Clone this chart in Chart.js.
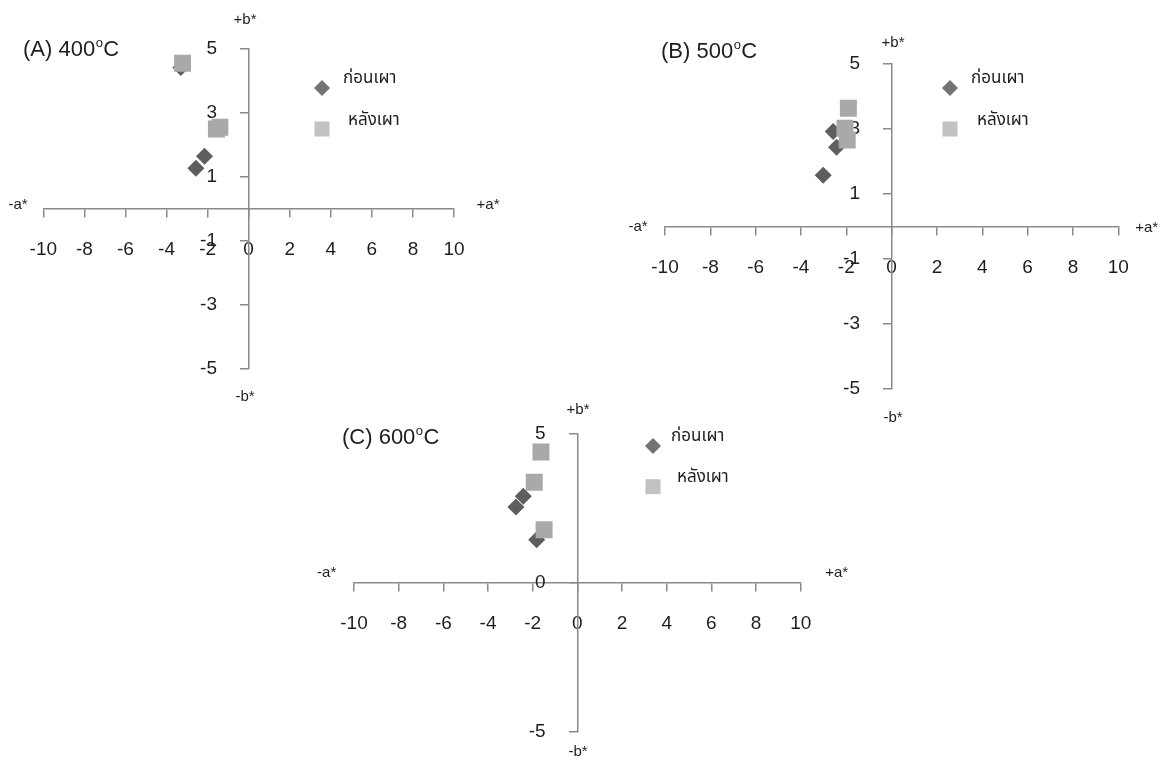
<!DOCTYPE html>
<html><head><meta charset="utf-8">
<script src="https://cdn.jsdelivr.net/npm/chart.js@4/dist/chart.umd.min.js"></script>
<style>
html,body{margin:0;padding:0;background:#fff;}
body{width:1169px;height:765px;position:relative;overflow:hidden;}
canvas{position:absolute;}
</style></head><body>
<canvas id="cA" width="520" height="410" style="left:0px;top:0px"></canvas>
<canvas id="cB" width="569" height="420" style="left:600px;top:20px"></canvas>
<canvas id="cC" width="580" height="370" style="left:290px;top:395px"></canvas>
<script>
// ---- data ----
const seriesNames = ['ก่อนเผา', 'หลังเผา'];
const panelTitles = ['(A) 400', '(B) 500', '(C) 600'];
const xTicks = [-10, -8, -6, -4, -2, 0, 2, 4, 6, 8, 10];
const yTicksAB = [-5, -3, -1, 1, 3, 5];
const yTicksC = [-5, 0, 5];

const aBeforeX = [-3.3, -2.15, -2.57];
const aBeforeY = [4.4, 1.63, 1.25];
const aAfterX = [-3.22, -1.57, -1.4];
const aAfterY = [4.53, 2.48, 2.53];

const bBeforeX = [-3.02, -2.43, -2.58];
const bBeforeY = [1.58, 2.44, 2.92];
const bAfterX = [-1.91, -2.06, -1.96];
const bAfterY = [3.64, 3.02, 2.66];

const cBeforeX = [-2.75, -2.42, -1.82];
const cBeforeY = [2.53, 2.89, 1.43];
const cAfterX = [-1.63, -1.93, -1.49];
const cAfterY = [4.37, 3.36, 1.77];

// ---- styling ----
const NUM_FONT = "'Liberation Sans', Arial, sans-serif";
const THAI_FONT = "'Noto Sans Thai','Loma','Garuda','Tahoma','Noto Sans','DejaVu Sans',sans-serif";
const AXIS_COLOR = '#8a8a8a';
const TEXT_COLOR = '#1e1e1e';
const DIAMOND_COLOR = '#5e5e5e';
const SQUARE_COLOR = '#a9a9a9';
const LEG_DIAMOND = '#737373';
const LEG_SQUARE = '#c2c2c2';
const Y_LABEL_GAP = '\u2007\u2007\u2007'; // keeps y tick labels clear of the crossing axis

const pts = (xs, ys) => xs.map((x, i) => ({x: x, y: ys[i]}));

const deco = {
  id: 'deco',
  afterDraw(chart, args, o) {
    const ctx = chart.ctx;
    ctx.save();
    ctx.fillStyle = TEXT_COLOR;
    ctx.font = '15px ' + NUM_FONT;
    ctx.textAlign = 'center';
    ctx.textBaseline = 'middle';
    o.axisTitles.forEach(t => ctx.fillText(t.text, t.x, t.y));
    ctx.textAlign = 'left';
    ctx.textBaseline = 'alphabetic';
    let x = o.title.x, y = o.title.y;
    ctx.font = '22px ' + NUM_FONT;
    ctx.fillText(o.title.text, x, y);
    x += ctx.measureText(o.title.text).width + 0.5;
    ctx.font = '13px ' + NUM_FONT;
    ctx.fillText('o', x, y - 9);
    x += ctx.measureText('o').width + 0.5;
    ctx.font = '22px ' + NUM_FONT;
    ctx.fillText('C', x, y);
    const L = o.legend;
    ctx.fillStyle = LEG_DIAMOND;
    ctx.beginPath();
    const r = 8;
    ctx.moveTo(L.dx, L.dy - r); ctx.lineTo(L.dx + r, L.dy); ctx.lineTo(L.dx, L.dy + r); ctx.lineTo(L.dx - r, L.dy);
    ctx.closePath(); ctx.fill();
    ctx.fillStyle = LEG_SQUARE;
    ctx.fillRect(L.sx - 7.5, L.sy - 7.5, 15, 15);
    ctx.fillStyle = TEXT_COLOR;
    ctx.font = '17px ' + THAI_FONT;
    ctx.textBaseline = 'middle';
    ctx.fillText(seriesNames[0], L.t1x, L.t1y);
    ctx.fillText(seriesNames[1], L.t2x, L.t2y);
    ctx.restore();
  }
};

function makeChart(id, bx, by, ax, ay, yTicks, pad, decoOpts) {
  return new Chart(document.getElementById(id), {
    type: 'scatter',
    data: {
      datasets: [
        {label: seriesNames[0], data: pts(bx, by), pointStyle: 'rectRot', pointRadius: 8.5, pointHoverRadius: 8.5,
         backgroundColor: DIAMOND_COLOR, borderWidth: 0, order: 2},
        {label: seriesNames[1], data: pts(ax, ay), pointStyle: 'rect', pointRadius: 12, pointHoverRadius: 12,
         backgroundColor: SQUARE_COLOR, borderWidth: 0, order: 1}
      ]
    },
    options: {
      responsive: false, animation: false, devicePixelRatio: 1,
      layout: {padding: pad},
      plugins: {legend: {display: false}, tooltip: {enabled: false}, deco: decoOpts},
      scales: {
        x: {
          type: 'linear', min: -10, max: 10,
          position: {y: 0},
          afterBuildTicks: s => { s.ticks = xTicks.map(v => ({value: v})); },
          grid: {drawOnChartArea: false, drawTicks: true, tickLength: 8, color: AXIS_COLOR, lineWidth: 1.5},
          border: {display: true, color: AXIS_COLOR, width: 1.5},
          ticks: {padding: 22, color: TEXT_COLOR, font: {family: NUM_FONT, size: 19}, maxRotation: 0, autoSkip: false}
        },
        y: {
          type: 'linear', min: -5, max: 5,
          position: {x: 0},
          afterBuildTicks: s => { s.ticks = yTicks.map(v => ({value: v})); },
          grid: {drawOnChartArea: false, drawTicks: true, tickLength: 8, color: AXIS_COLOR, lineWidth: 1.5},
          border: {display: true, color: AXIS_COLOR, width: 1.5},
          ticks: {padding: 22, color: TEXT_COLOR, font: {family: NUM_FONT, size: 19}, autoSkip: false,
                  callback: v => String(v) + Y_LABEL_GAP}
        }
      }
    },
    plugins: [deco]
  });
}

makeChart('cA', aBeforeX, aBeforeY, aAfterX, aAfterY, yTicksAB,
  {left: 43.3, top: 48.3, right: 66, bottom: 41.7},
  {title: {text: panelTitles[0], x: 23, y: 56},
   axisTitles: [{text: '+b*', x: 245, y: 20}, {text: '-b*', x: 245, y: 397}, {text: '-a*', x: 18, y: 205}, {text: '+a*', x: 488, y: 205}],
   legend: {dx: 322, dy: 88, sx: 322, sy: 129, t1x: 343, t1y: 80, t2x: 348, t2y: 122}});

makeChart('cB', bBeforeX, bBeforeY, bAfterX, bAfterY, yTicksAB,
  {left: 65, top: 44, right: 50.7, bottom: 51},
  {title: {text: panelTitles[1], x: 61, y: 38},
   axisTitles: [{text: '+b*', x: 293, y: 23}, {text: '-b*', x: 293, y: 398}, {text: '-a*', x: 38, y: 207}, {text: '+a*', x: 546.7, y: 208}],
   legend: {dx: 350, dy: 68, sx: 350, sy: 109, t1x: 371, t1y: 60, t2x: 377, t2y: 102}});

makeChart('cC', cBeforeX, cBeforeY, cAfterX, cAfterY, yTicksC,
  {left: 64, top: 38.3, right: 69.3, bottom: 33.3},
  {title: {text: panelTitles[2], x: 52, y: 49},
   axisTitles: [{text: '+b*', x: 288, y: 15}, {text: '-b*', x: 288, y: 357}, {text: '-a*', x: 36.7, y: 178.3}, {text: '+a*', x: 546.7, y: 178.3}],
   legend: {dx: 363, dy: 51, sx: 363, sy: 91.7, t1x: 381, t1y: 42.3, t2x: 387, t2y: 83.3}});
</script>
</body></html>
